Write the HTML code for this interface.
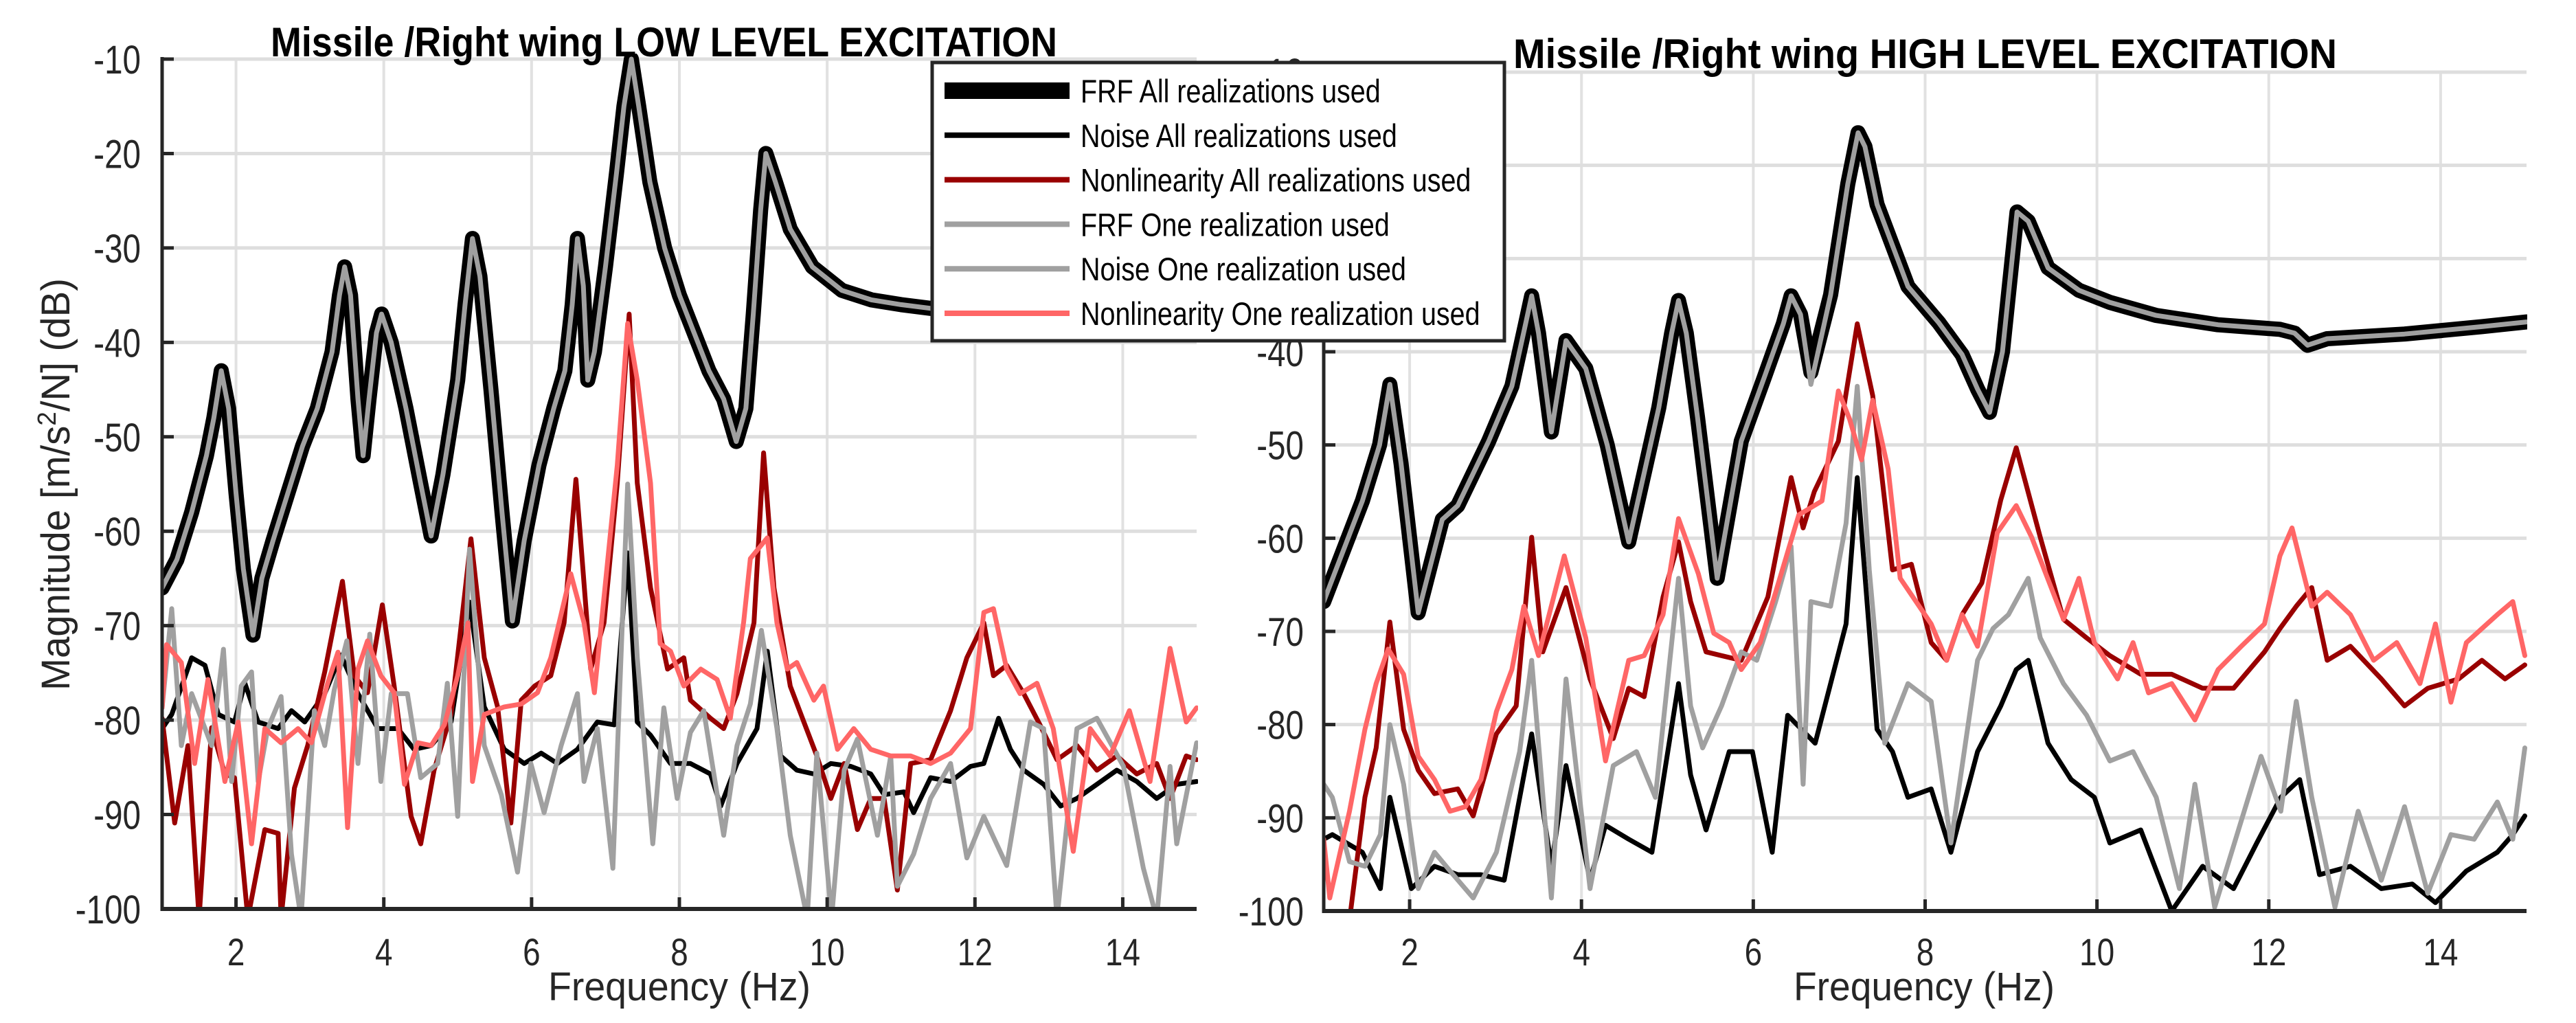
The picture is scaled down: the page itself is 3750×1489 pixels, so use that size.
<!DOCTYPE html>
<html><head><meta charset="utf-8"><style>
html,body{margin:0;padding:0;background:#fff;}
svg{display:block;}
text{font-family:"Liberation Sans",Arial,sans-serif;fill:#262626;}
</style></head><body>
<svg id="fig" xmlns="http://www.w3.org/2000/svg" width="3750" height="1489" viewBox="0 0 3750 1489">
<defs>
<clipPath id="clipL"><rect x="236" y="78" width="1508" height="1248"/></clipPath>
<clipPath id="clipR"><rect x="1927" y="97" width="1752" height="1231"/></clipPath>
</defs>
<g id="axL"></g>
<g id="axR"></g>
<text x="394" y="82" font-size="60" font-weight="bold" textLength="1145" lengthAdjust="spacingAndGlyphs" style="fill:#000">Missile /Right wing LOW LEVEL EXCITATION</text>
<text x="2203" y="99" font-size="60" font-weight="bold" textLength="1199" lengthAdjust="spacingAndGlyphs" style="fill:#000">Missile /Right wing HIGH LEVEL EXCITATION</text>
<text x="989" y="1456" font-size="58" text-anchor="middle" textLength="382" lengthAdjust="spacingAndGlyphs">Frequency (Hz)</text>
<text x="2801" y="1456" font-size="58" text-anchor="middle" textLength="380" lengthAdjust="spacingAndGlyphs">Frequency (Hz)</text>
<text transform="translate(101,705) rotate(-90)" font-size="58" text-anchor="middle" textLength="600" lengthAdjust="spacingAndGlyphs">Magnitude [m/s<tspan font-size="38" dy="-20">2</tspan><tspan dy="20">/N] (dB)</tspan></text>
<g id="legend"></g>
</svg>
<script>
// ---------- data ----------
const xTicks = [2,4,6,8,10,12,14];
const yTicks = [-10,-20,-30,-40,-50,-60,-70,-80,-90,-100];
const legendLabels = ["FRF All realizations used","Noise All realizations used","Nonlinearity All realizations used","FRF One realization used","Noise One realization used","Nonlinearity One realization used"];

// LOW level (left)
const leftFrfF = [1,1.2,1.4,1.6,1.7,1.8,1.9,2.0,2.1,2.23,2.35,2.5,2.7,2.9,3.1,3.3,3.4,3.47,3.55,3.65,3.72,3.8,3.9,3.97,4.1,4.3,4.5,4.64,4.8,5.0,5.1,5.2,5.3,5.45,5.6,5.74,5.9,6.1,6.3,6.45,6.55,6.62,6.7,6.76,6.85,7.0,7.15,7.25,7.35,7.45,7.6,7.8,8.0,8.2,8.4,8.6,8.77,8.9,9.0,9.1,9.17,9.3,9.5,9.8,10.2,10.6,11.0,11.5,12,13,14,15];
const leftFrfAllDb = [-66,-63,-58,-52,-48,-43,-47,-56,-64,-71,-65,-61,-56,-51,-47,-41,-35,-32,-35,-46,-52,-46,-39,-37,-40,-47,-55,-60.5,-54,-44,-36,-29,-33,-45,-58,-69.5,-61,-53,-47,-43,-36,-29,-34,-44,-41,-32,-22,-15,-10,-15,-23,-30,-35,-39,-43,-46,-50.5,-47,-37,-26,-20,-23,-28,-32,-34.5,-35.5,-36,-36.5,-37,-37.5,-37.8,-38];
const leftFrfOneDb = [-66,-63,-58,-52,-48,-43,-47,-56,-64,-71,-65,-61,-56,-51,-47,-41,-35,-32,-35,-46,-52,-46,-39,-37,-40,-47,-55,-60.5,-54,-44,-36,-29,-33,-45,-58,-69.5,-61,-53,-47,-43,-36,-29,-34,-44,-41,-32,-22,-15,-10,-15,-23,-30,-35,-39,-43,-46,-50.5,-47,-37,-26,-20,-23,-28,-32,-34.5,-35.5,-36,-36.5,-37,-37.5,-37.8,-38];

const leftNlAllF = [1.0,1.17,1.35,1.5,1.67,1.85,1.98,2.16,2.39,2.57,2.61,2.79,2.97,3.2,3.44,3.6,3.78,3.98,4.14,4.37,4.5,4.68,4.91,5.18,5.36,5.54,5.72,5.86,6.04,6.26,6.44,6.6,6.8,6.98,7.16,7.32,7.43,7.61,7.84,8.06,8.15,8.42,8.6,8.78,9.01,9.14,9.28,9.5,9.68,9.86,10.05,10.23,10.41,10.59,10.77,10.95,11.13,11.4,11.67,11.89,12.12,12.25,12.43,12.66,12.88,13.11,13.38,13.65,13.92,14.19,14.46,14.64,14.86,15.0];
const leftNlAllDb = [-79.8,-90.9,-82.7,-101,-80.8,-85.7,-86.1,-101,-91.6,-92,-101,-87.2,-82.7,-74.9,-65.3,-75.3,-77.1,-67.8,-76.4,-90.2,-93.1,-85.3,-79.4,-60.8,-73.4,-78.6,-90.9,-77.9,-76.4,-75.3,-69.7,-54.5,-74.6,-69.7,-54.9,-37,-54.9,-66,-74.6,-73.4,-77.9,-79.8,-80.9,-77.2,-69.7,-51.7,-66,-76.4,-80.1,-83.8,-88.3,-84.6,-91.6,-88.3,-88.3,-98,-84.6,-84.2,-79,-73.4,-69.7,-75.3,-74.2,-77.2,-80.5,-84.2,-82.7,-85.3,-83.8,-85.7,-84.6,-88.3,-83.8,-84.2];

const leftNlOneF = [1.0,1.06,1.26,1.44,1.62,1.85,2.03,2.21,2.39,2.61,2.84,3.02,3.24,3.38,3.51,3.65,3.78,3.96,4.14,4.28,4.46,4.64,4.82,5.0,5.14,5.2,5.36,5.63,5.86,6.08,6.26,6.53,6.71,6.85,7.16,7.3,7.43,7.61,7.74,7.88,8.06,8.29,8.51,8.69,8.87,8.96,9.19,9.32,9.46,9.59,9.82,9.95,10.14,10.36,10.59,10.86,11.13,11.4,11.67,11.94,12.12,12.25,12.43,12.61,12.84,13.06,13.33,13.56,13.83,14.09,14.37,14.64,14.86,15.0];
const leftNlOneDb = [-78.7,-72,-73.9,-84.6,-75.7,-86.5,-80.2,-93.1,-80.9,-82.4,-80.9,-82.4,-76.1,-72.8,-91.4,-74.6,-71.6,-75.3,-77.1,-86.8,-82.4,-82.7,-80.5,-75.3,-69.7,-86.5,-79.4,-78.6,-78.3,-77.1,-73.4,-64.5,-69.7,-77.1,-53,-38,-44,-54.9,-71.9,-72.7,-76.4,-74.6,-75.7,-79.8,-69.6,-62.9,-60.7,-69.7,-74.6,-73.9,-77.9,-76.4,-83.1,-80.9,-83.1,-83.8,-83.8,-84.6,-83.5,-80.9,-68.6,-68.2,-74.6,-77.2,-76.1,-80.9,-93.9,-80.9,-83.8,-79,-86.5,-72.4,-80.2,-78.7];

const leftNoiseAllF = [1.0,1.13,1.4,1.58,1.76,1.98,2.12,2.3,2.57,2.75,2.93,3.2,3.42,3.65,3.92,4.19,4.41,4.64,4.91,5.16,5.36,5.63,5.9,6.13,6.35,6.62,6.89,7.12,7.3,7.43,7.61,7.88,8.15,8.42,8.56,8.78,9.05,9.19,9.37,9.59,9.82,10.05,10.32,10.59,10.77,11.04,11.17,11.4,11.67,11.94,12.12,12.32,12.48,12.66,12.93,13.16,13.38,13.65,13.92,14.19,14.46,14.73,15.0];
const leftNoiseAllDb = [-80.9,-79.4,-73.4,-74.2,-79.4,-80.2,-76.1,-80.2,-80.9,-79,-80.2,-77.2,-73.1,-77.2,-80.9,-80.9,-83.1,-82.7,-80.2,-67.5,-78.6,-83.1,-84.6,-83.5,-84.6,-83.1,-80.2,-80.5,-62.3,-80.2,-81.6,-84.6,-84.6,-85.7,-89.1,-84.6,-80.9,-72.7,-83.8,-85.3,-85.7,-84.6,-84.9,-85.7,-87.9,-87.6,-89.8,-86.1,-86.5,-84.9,-84.6,-79.8,-83.1,-85.3,-86.8,-89.1,-88.3,-86.8,-85.3,-86.5,-88.3,-86.8,-86.5];

const leftNoiseOneF = [1.0,1.13,1.26,1.4,1.67,1.83,1.94,2.07,2.21,2.3,2.43,2.61,2.75,2.88,3.06,3.2,3.33,3.5,3.65,3.81,3.96,4.1,4.32,4.5,4.73,4.86,5.0,5.16,5.36,5.59,5.81,5.99,6.17,6.4,6.62,6.71,6.89,7.1,7.3,7.43,7.64,7.79,7.97,8.15,8.33,8.6,8.78,8.96,9.11,9.32,9.5,9.73,9.86,10.06,10.23,10.41,10.68,10.86,10.95,11.17,11.4,11.67,11.89,12.12,12.43,12.75,12.93,13.11,13.38,13.65,14.01,14.28,14.46,14.64,14.73,15.0];
const leftNoiseOneDb = [-78.7,-68.2,-82.7,-77.2,-82.7,-72.5,-86.5,-76.4,-74.9,-86.5,-80.9,-77.5,-94.2,-101,-79,-82.7,-76.8,-71.6,-84.6,-70.9,-86.5,-77.2,-77.2,-86.1,-84.6,-76.1,-90.2,-61.9,-82.7,-87.9,-96.1,-84.6,-89.8,-82.7,-77.2,-86.5,-80.9,-95.7,-55,-73.4,-93.1,-78.7,-88.3,-81.3,-79,-92.2,-82.7,-78.3,-70.5,-80.9,-92.2,-101,-83.5,-101,-85.3,-82,-92.2,-83.8,-97.6,-94.2,-88.3,-84.6,-94.6,-90.2,-95.4,-80.2,-80.9,-101,-80.9,-79.8,-84.9,-95.7,-101,-84.9,-93.1,-82.4];

// HIGH level (right)
const rightFrfF = [1,1.2,1.45,1.65,1.77,1.9,2.1,2.38,2.56,2.92,3.19,3.35,3.42,3.5,3.65,3.82,4.05,4.3,4.55,4.9,5.05,5.13,5.22,5.35,5.58,5.86,6.13,6.35,6.44,6.55,6.67,6.9,7.1,7.22,7.3,7.44,7.8,8.16,8.43,8.61,8.75,8.9,9.07,9.2,9.43,9.79,10.15,10.69,11.41,12.13,12.3,12.45,12.68,13.58,14.48,15];
const rightFrfAllDb = [-66.8,-62,-56,-50,-43.5,-52,-68,-58,-56.5,-49.6,-43.7,-37,-34,-38,-48.6,-38.8,-41.8,-50,-60.4,-46,-38,-34.5,-38,-47,-64.3,-49.6,-42.7,-37,-34,-36,-42.2,-33.9,-22,-16.5,-18,-24.2,-33,-36.9,-40.3,-44,-46.5,-40,-25,-26,-31,-33.4,-34.7,-36.1,-37.1,-37.6,-38,-39.3,-38.6,-38.1,-37.3,-36.8];
const rightFrfOneDb = [-66.8,-62,-56,-50,-43.5,-52,-68,-58,-56.5,-49.6,-43.7,-37,-34,-38,-48.6,-38.8,-41.8,-50,-60.4,-46,-38,-34.5,-38,-47,-64.3,-49.6,-42.7,-37,-34,-36,-43.5,-33.9,-22,-16.5,-18,-24.2,-33,-36.9,-40.3,-44,-46.5,-40,-25,-26,-31,-33.4,-34.7,-36.1,-37.1,-37.6,-38,-39.3,-38.6,-38.1,-37.3,-36.8];

const rightNlAllF = [1.0,1.3,1.48,1.61,1.77,1.93,2.1,2.29,2.56,2.74,3.01,3.24,3.42,3.55,3.82,4.1,4.37,4.55,4.73,4.95,5.13,5.27,5.45,5.63,5.86,6.17,6.44,6.58,6.71,6.99,7.21,7.39,7.62,7.84,8.07,8.25,8.43,8.66,8.88,9.06,9.34,9.61,9.88,10.15,10.51,10.87,11.23,11.59,11.95,12.13,12.32,12.5,12.68,12.95,13.31,13.58,13.85,14.21,14.48,14.75,14.98];
const rightNlAllDb = [-101,-101,-87.8,-82.5,-69,-80.5,-84.9,-87.4,-86.9,-89.8,-81,-78,-59.9,-72.2,-65.3,-75.1,-81.5,-76.1,-77,-66.3,-60.4,-66.8,-72.2,-72.6,-73.1,-66.3,-53.5,-58.9,-55,-49.6,-37,-44.7,-63.4,-62.8,-71.2,-73.1,-68.2,-64.8,-55.9,-50.3,-59.9,-68.7,-70.7,-72.6,-74.6,-74.6,-76.1,-76.1,-72.2,-69.7,-67.3,-65.3,-73.1,-71.6,-75.1,-78,-76.1,-75.1,-73.1,-75.1,-73.6];

const rightNlOneF = [1.0,1.07,1.3,1.48,1.61,1.75,1.93,2.1,2.29,2.47,2.65,2.83,3.01,3.19,3.33,3.5,3.8,4.05,4.28,4.55,4.73,4.95,5.13,5.36,5.54,5.72,5.86,6.08,6.26,6.53,6.8,6.99,7.12,7.26,7.39,7.57,7.71,8.07,8.25,8.43,8.61,8.84,9.06,9.24,9.61,9.79,9.97,10.24,10.42,10.6,10.87,11.14,11.41,11.68,11.95,12.13,12.27,12.5,12.68,12.95,13.22,13.49,13.76,13.94,14.12,14.3,14.66,14.84,14.98];
const rightNlOneDb = [-92.3,-98.6,-89.3,-80.5,-75.6,-71.9,-74.6,-83.4,-85.9,-89.3,-88.8,-85.9,-78.6,-74.1,-67.3,-72.6,-61.9,-70.7,-83.9,-73.1,-72.6,-68.2,-57.9,-63.8,-70.2,-71.2,-74.1,-71.2,-65.8,-57.5,-56,-44.2,-47.2,-51.6,-45.2,-52.6,-64.3,-69.2,-73.1,-68.2,-71.6,-59.4,-56.5,-59.9,-68.7,-64.3,-71.2,-75.1,-71.2,-76.6,-75.6,-79.5,-74.1,-71.6,-69.2,-61.9,-58.9,-67.3,-65.8,-68.2,-73.1,-71.2,-75.6,-69.2,-77.6,-71.2,-68.2,-66.8,-72.6];

const rightNoiseAllF = [1.0,1.1,1.45,1.66,1.77,2.02,2.29,2.56,2.83,3.1,3.42,3.65,3.82,4.1,4.28,4.55,4.82,5.13,5.27,5.45,5.72,5.99,6.22,6.4,6.72,7.08,7.21,7.44,7.62,7.8,8.07,8.3,8.61,8.88,9.06,9.2,9.43,9.7,9.97,10.15,10.51,10.87,11.23,11.59,11.86,12.14,12.36,12.59,12.95,13.31,13.67,13.94,14.3,14.66,14.84,14.98];
const rightNoiseAllDb = [-92.3,-91.8,-93.7,-97.6,-87.8,-97.6,-95.2,-96.1,-96.1,-96.7,-81,-95.2,-84.4,-96.7,-90.8,-92.3,-93.7,-75.6,-85.4,-91.3,-82.9,-82.9,-93.7,-79,-82,-69.2,-53.5,-80.5,-82.9,-87.8,-86.9,-93.7,-82.9,-78,-74.1,-73.1,-82,-85.9,-87.8,-92.7,-91.3,-100,-95.2,-97.6,-92.7,-87.8,-85.9,-96.1,-95.2,-97.6,-97.1,-99.1,-95.7,-93.7,-91.8,-89.8];

const rightNoiseOneF = [1.0,1.1,1.3,1.48,1.66,1.77,1.93,2.1,2.29,2.47,2.74,3.01,3.28,3.42,3.65,3.82,4.1,4.37,4.64,4.86,5.13,5.27,5.41,5.63,5.86,6.04,6.26,6.44,6.58,6.67,6.9,7.08,7.21,7.35,7.53,7.8,8.07,8.3,8.61,8.79,8.97,9.2,9.34,9.61,9.88,10.15,10.42,10.69,10.96,11.14,11.37,11.6,11.91,12.14,12.32,12.5,12.77,13.04,13.31,13.58,13.85,14.12,14.39,14.66,14.84,14.98];
const rightNoiseOneDb = [-86.4,-87.8,-94.7,-95.2,-91.8,-80,-86.4,-97.6,-93.7,-95.7,-98.6,-93.7,-82.9,-73.1,-98.6,-75.1,-97.6,-84.4,-82.9,-87.8,-64.3,-78,-82.5,-78,-72.2,-73.1,-66.8,-60.9,-86.4,-66.8,-67.3,-58.4,-43.7,-63.4,-82,-75.6,-77.5,-92.7,-73.1,-69.7,-68.2,-64.3,-70.7,-75.6,-79,-83.9,-82.9,-87.8,-97.6,-86.4,-99.6,-92.7,-83.4,-89.3,-77.5,-87.8,-99.6,-89.3,-96.7,-88.8,-98.1,-91.8,-92.3,-88.3,-92.3,-82.5];

// ---------- drawing ----------
const NS = "http://www.w3.org/2000/svg";
function mk(tag, attrs, parent){
  const e = document.createElementNS(NS, tag);
  for (const k in attrs) e.setAttribute(k, attrs[k]);
  parent.appendChild(e);
  return e;
}
function makeAxes(g, x0, x1, yTop, yBot){
  const xs = f => x0 + (f - 1) / 14 * (x1 - x0);
  const ys = d => yTop + (-10 - d) / 90 * (yBot - yTop);
  for (const t of xTicks){
    const l = mk("line", {x1: xs(t), x2: xs(t), y1: yTop, y2: yBot, stroke: "#e1e1e1", "stroke-width": 4}, g);
    
    
  }
  for (const t of yTicks){
    const l = mk("line", {x1: x0, x2: x1, y1: ys(t), y2: ys(t), stroke: "#dedede", "stroke-width": 5}, g);
    
    
  }
  return {xs, ys};
}
function drawSeries(g, sc, fArr, dArr, color, width, clipId, name){
  let d = "";
  for (let i = 0; i < fArr.length; i++){
    d += (i ? "L" : "M") + sc.xs(fArr[i]).toFixed(1) + "," + sc.ys(dArr[i]).toFixed(1);
  }
  const p = mk("path", {d: d, fill: "none", stroke: color, "stroke-width": width, "stroke-linejoin": "round", "stroke-linecap": "round", "clip-path": "url(#" + clipId + ")"}, g);
  
  
}
function condense(t, k){
  const w = t.getComputedTextLength();
  t.setAttribute("textLength", (w * k).toFixed(1));
  t.setAttribute("lengthAdjust", "spacingAndGlyphs");
}
function drawFrame(g, sc, x0, x1, yTop, yBot, labelRight){
  const ax = mk("line", {x1: x0, x2: x0, y1: yTop - 3, y2: yBot + 3, stroke: "#262626", "stroke-width": 5}, g);
  
  
  const bx = mk("line", {x1: x0 - 2, x2: x1, y1: yBot, y2: yBot, stroke: "#262626", "stroke-width": 6}, g);
  
  
  for (const t of yTicks){
    const tk = mk("line", {x1: x0, x2: x0 + 17, y1: sc.ys(t), y2: sc.ys(t), stroke: "#262626", "stroke-width": 5}, g);
    
    
    const tl = mk("text", {x: labelRight, y: sc.ys(t) + 21, "font-size": 58, "text-anchor": "end"}, g);
    tl.textContent = String(t);
    
    
    condense(tl, 0.82);
  }
  for (const t of xTicks){
    const tk = mk("line", {x1: sc.xs(t), x2: sc.xs(t), y1: yBot, y2: yBot - 17, stroke: "#262626", "stroke-width": 5}, g);
    
    
    const tl = mk("text", {x: sc.xs(t), y: 1405, "font-size": 56, "text-anchor": "middle"}, g);
    tl.textContent = String(t);
    
    
    condense(tl, 0.82);
  }
}
const cFrfAll = "#000000", cFrfOne = "#a0a0a0", cNoiseAll = "#000000", cNl = "#990000", cNoiseOne = "#a0a0a0", cNlOne = "#ff6666";

// left
const gL = document.getElementById("axL");
const sL = makeAxes(gL, 236, 1742, 86, 1323);
drawSeries(gL, sL, leftFrfF, leftFrfAllDb, cFrfAll, 22, "clipL", "left-frf-all-line");
drawSeries(gL, sL, leftNoiseAllF, leftNoiseAllDb, cNoiseAll, 7, "clipL", "left-noise-all-line");
drawSeries(gL, sL, leftNlAllF, leftNlAllDb, cNl, 7, "clipL", "left-nonlinearity-all-line");
drawSeries(gL, sL, leftFrfF, leftFrfOneDb, cFrfOne, 7, "clipL", "left-frf-one-line");
drawSeries(gL, sL, leftNoiseOneF, leftNoiseOneDb, cNoiseOne, 7, "clipL", "left-noise-one-line");
drawSeries(gL, sL, leftNlOneF, leftNlOneDb, cNlOne, 7, "clipL", "left-nonlinearity-one-line");
drawFrame(gL, sL, 236, 1742, 86, 1323, 205);

// right
const gR = document.getElementById("axR");
const sR = makeAxes(gR, 1927, 3678, 105, 1326);
drawSeries(gR, sR, rightFrfF, rightFrfAllDb, cFrfAll, 22, "clipR", "right-frf-all-line");
drawSeries(gR, sR, rightNoiseAllF, rightNoiseAllDb, cNoiseAll, 7, "clipR", "right-noise-all-line");
drawSeries(gR, sR, rightNlAllF, rightNlAllDb, cNl, 7, "clipR", "right-nonlinearity-all-line");
drawSeries(gR, sR, rightFrfF, rightFrfOneDb, cFrfOne, 7, "clipR", "right-frf-one-line");
drawSeries(gR, sR, rightNoiseOneF, rightNoiseOneDb, cNoiseOne, 7, "clipR", "right-noise-one-line");
drawSeries(gR, sR, rightNlOneF, rightNlOneDb, cNlOne, 7, "clipR", "right-nonlinearity-one-line");
drawFrame(gR, sR, 1927, 3678, 105, 1326, 1898);

// legend
const lg = document.getElementById("legend");
const box = mk("rect", {x: 1357, y: 91, width: 833, height: 405, fill: "#fff", stroke: "#262626", "stroke-width": 5}, lg);


const legColors = [cFrfAll, cNoiseAll, cNl, cFrfOne, cNoiseOne, cNlOne];
const legWidths = [24, 8, 8, 8, 8, 8];
for (let i = 0; i < legendLabels.length; i++){
  const yy = 132 + i * 64.8;
  const ln = mk("line", {x1: 1375, x2: 1557, y1: yy, y2: yy, stroke: legColors[i], "stroke-width": legWidths[i]}, lg);
  
  
  const tx = mk("text", {x: 1573, y: yy + 17, "font-size": 47}, lg);
  tx.style.fill = "#000";
  tx.textContent = legendLabels[i];
  
  
  condense(tx, 0.84);
}
</script>
</body></html>
